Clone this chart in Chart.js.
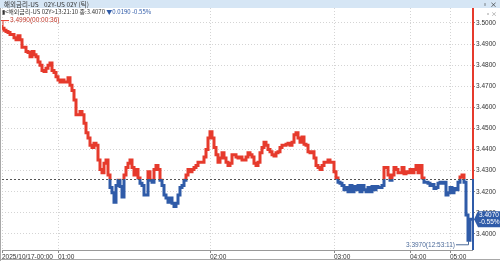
<!DOCTYPE html>
<html>
<head>
<meta charset="utf-8">
<script src="https://cdn.jsdelivr.net/npm/chart.js@4.4.1/dist/chart.umd.min.js"></script>
<style>
body { margin: 0; background: #fff; }
#wrap { position: relative; width: 500px; height: 261px; overflow: hidden; font-family: "Noto Sans CJK KR", "Liberation Sans", sans-serif; }
#chart { position: absolute; left: 0; top: 0; }
#titlebar { position: absolute; left: 0; top: 0; width: 500px; height: 8px; background: #d6e6f5; font-size: 6.5px; line-height: 8px; color: #333; }
#titlebar .t1 { position: absolute; left: 4px; }
#titlebar .t2 { position: absolute; left: 44px; }
#titlebar .win { position: absolute; right: 3px; font-size: 7px; color: #222; }
#info { position: absolute; left: 2px; top: 8px; font-size: 6px; line-height: 8px; color: #333; white-space: nowrap; }
#info .dn { color: #2f5ba8; }
#pin { position: absolute; right: 3px; top: 9px; font-size: 6px; color: #888; }
</style>
</head>
<body>
<div id="wrap">
  <canvas id="chart" width="500" height="261"></canvas>
  <div id="titlebar"><span class="t1">해외금리-US</span><span class="t2">02Y-US 02Y (틱)</span><span class="win">▫ ×</span></div>
  <div id="info">▮&lt;해외금리-US 02Y&gt;13:21:10 종:3.4070 <span class="dn">▼0.0190 -0.55%</span></div>
  <div id="pin">▫×</div>
</div>
<script>
// reference (previous close) and summary values
var refPrice = 3.4260;
var lastPrice = 3.4070;
var changePct = '-0.55%';
var highLabel = '3.4990(00:00:36)';
var lowLabel = '3.3970(12:53:11)';

var timeLabels = ['2025/10/17-00:00', '01:00', '02:00', '03:00', '04:00', '05:00'];
var timeTickIndex = [0, 28, 104, 166, 204, 224];
var yTicks = [3.40, 3.41, 3.42, 3.43, 3.44, 3.45, 3.46, 3.47, 3.48, 3.49, 3.50];

// tick prices, oldest first
var prices = [
    3.4990, 3.4975, 3.4965, 3.4960, 3.4955, 3.4945, 3.4945, 3.4930, 3.4920, 3.4940,
    3.4920, 3.4885, 3.4885, 3.4865, 3.4860, 3.4840, 3.4865, 3.4850, 3.4840, 3.4815,
    3.4800, 3.4775, 3.4770, 3.4785, 3.4800, 3.4810, 3.4775, 3.4765, 3.4745, 3.4730,
    3.4720, 3.4730, 3.4720, 3.4720, 3.4740, 3.4705, 3.4680, 3.4635, 3.4565, 3.4565,
    3.4580, 3.4565, 3.4525, 3.4480, 3.4455, 3.4420, 3.4410, 3.4430, 3.4420, 3.4350,
    3.4305, 3.4290, 3.4335, 3.4350, 3.4280, 3.4220, 3.4195, 3.4150, 3.4230, 3.4255,
    3.4225, 3.4175, 3.4280, 3.4315, 3.4335, 3.4350, 3.4315, 3.4280, 3.4305, 3.4265,
    3.4240, 3.4230, 3.4185, 3.4185, 3.4295, 3.4255, 3.4245, 3.4305, 3.4325, 3.4305,
    3.4255, 3.4230, 3.4185, 3.4170, 3.4150, 3.4170, 3.4145, 3.4130, 3.4145, 3.4185,
    3.4220, 3.4230, 3.4255, 3.4280, 3.4305, 3.4295, 3.4305, 3.4315, 3.4325, 3.4340,
    3.4340, 3.4340, 3.4365, 3.4400, 3.4455, 3.4485, 3.4455, 3.4410, 3.4375, 3.4340,
    3.4360, 3.4385, 3.4360, 3.4340, 3.4325, 3.4335, 3.4375, 3.4375, 3.4365, 3.4360,
    3.4365, 3.4350, 3.4350, 3.4365, 3.4385, 3.4375, 3.4365, 3.4335, 3.4325, 3.4340,
    3.4385, 3.4410, 3.4435, 3.4420, 3.4400, 3.4390, 3.4375, 3.4370, 3.4385, 3.4390,
    3.4410, 3.4420, 3.4420, 3.4425, 3.4430, 3.4420, 3.4435, 3.4470, 3.4480, 3.4455,
    3.4435, 3.4460, 3.4425, 3.4420, 3.4390, 3.4385, 3.4390, 3.4360, 3.4325, 3.4315,
    3.4305, 3.4325, 3.4340, 3.4340, 3.4350, 3.4340, 3.4340, 3.4295, 3.4265, 3.4245,
    3.4240, 3.4230, 3.4210, 3.4220, 3.4200, 3.4230, 3.4200, 3.4225, 3.4210, 3.4230,
    3.4200, 3.4230, 3.4210, 3.4200, 3.4220, 3.4200, 3.4225, 3.4210, 3.4225, 3.4220,
    3.4220, 3.4230, 3.4315, 3.4315, 3.4280, 3.4255, 3.4280, 3.4315, 3.4305, 3.4290,
    3.4290, 3.4315, 3.4285, 3.4295, 3.4290, 3.4305, 3.4290, 3.4305, 3.4325, 3.4290,
    3.4325, 3.4265, 3.4245, 3.4245, 3.4240, 3.4230, 3.4235, 3.4215, 3.4220, 3.4240,
    3.4245, 3.4240, 3.4245, 3.4185, 3.4195, 3.4220, 3.4195, 3.4215, 3.4210, 3.4245,
    3.4270, 3.4280, 3.4245, 3.4090, 3.3970, 3.4070
];

var RED = '#e63a2c';
var BLUE = '#2f5ba8';
var GRID = '#d4d4d4';
var AXIS_FONT = { size: 6.5, family: '"Liberation Sans", sans-serif' };

function splitColor(context) {
    var chart = context.chart;
    var area = chart.chartArea;
    if (!area) return RED;
    var yRef = chart.scales.y.getPixelForValue(refPrice);
    var t = (yRef - area.top) / (area.bottom - area.top);
    t = Math.max(0, Math.min(1, t));
    var g = chart.ctx.createLinearGradient(0, area.top, 0, area.bottom);
    g.addColorStop(0, RED);
    g.addColorStop(t, RED);
    g.addColorStop(t, BLUE);
    g.addColorStop(1, BLUE);
    return g;
}

var overlay = {
    id: 'overlay',
    afterDatasetsDraw: function (chart) {
        var ctx = chart.ctx;
        var area = chart.chartArea;
        var xs = chart.scales.x, ys = chart.scales.y;
        var yRef = ys.getPixelForValue(refPrice);

        ctx.save();
        // previous close line
        ctx.strokeStyle = '#555';
        ctx.lineWidth = 1;
        ctx.setLineDash([2, 2]);
        ctx.beginPath();
        ctx.moveTo(area.left, Math.round(yRef) + 0.5);
        ctx.lineTo(area.right, Math.round(yRef) + 0.5);
        ctx.stroke();
        ctx.setLineDash([]);

        // right edge bar, red above / blue below
        ctx.lineWidth = 2;
        ctx.strokeStyle = RED;
        ctx.beginPath();
        ctx.moveTo(area.right + 1, area.top);
        ctx.lineTo(area.right + 1, yRef);
        ctx.stroke();
        ctx.strokeStyle = BLUE;
        ctx.beginPath();
        ctx.moveTo(area.right + 1, yRef);
        ctx.lineTo(area.right + 1, area.bottom);
        ctx.stroke();

        // left frame and bottom frame
        ctx.lineWidth = 1;
        ctx.strokeStyle = '#a8a8a8';
        ctx.beginPath();
        ctx.moveTo(0.5, area.top);
        ctx.lineTo(0.5, chart.height);
        ctx.moveTo(0, chart.height - 1.5);
        ctx.lineTo(chart.width, chart.height - 1.5);
        ctx.stroke();

        ctx.font = '6.5px "Liberation Sans", sans-serif';
        ctx.textBaseline = 'middle';

        // high marker
        var hx = xs.getPixelForValue(0), hy = ys.getPixelForValue(prices[0]);
        ctx.strokeStyle = RED;
        ctx.beginPath();
        ctx.moveTo(hx + 1, hy);
        ctx.lineTo(hx + 1, hy - 4);
        ctx.moveTo(hx - 1, hy - 4.5);
        ctx.lineTo(hx + 7, hy - 4.5);
        ctx.stroke();
        ctx.fillStyle = '#c0392b';
        ctx.textAlign = 'left';
        ctx.fillText(highLabel, hx + 8, hy - 4.5);

        // low marker
        var lowIdx = prices.indexOf(Math.min.apply(null, prices));
        var lx = xs.getPixelForValue(lowIdx), ly = ys.getPixelForValue(prices[lowIdx]);
        ctx.strokeStyle = '#4c6a99';
        ctx.beginPath();
        ctx.moveTo(lx - 14, ly + 4.5);
        ctx.lineTo(lx - 1.5, ly + 4.5);
        ctx.lineTo(lx - 1.5, ly + 1);
        ctx.stroke();
        ctx.fillStyle = '#4c6a99';
        ctx.textAlign = 'right';
        ctx.fillText(lowLabel, lx - 15, ly + 4.5);

        // last price badge on the axis
        var by = ys.getPixelForValue(lastPrice);
        var bx = area.right + 2;
        ctx.fillStyle = BLUE;
        ctx.beginPath();
        ctx.moveTo(bx, by);
        ctx.lineTo(bx + 4, by - 8);
        ctx.lineTo(chart.width, by - 8);
        ctx.lineTo(chart.width, by + 8);
        ctx.lineTo(bx + 4, by + 8);
        ctx.closePath();
        ctx.fill();
        ctx.fillStyle = '#fff';
        ctx.textAlign = 'left';
        ctx.fillText(lastPrice.toFixed(4), bx + 5, by - 3.5);
        ctx.fillText(changePct, bx + 5, by + 3.5);
        ctx.restore();
    }
};

new Chart(document.getElementById('chart'), {
    type: 'line',
    data: {
        datasets: [{
            data: prices.map(function (p, i) { return { x: i, y: p }; }),
            stepped: 'after',
            borderWidth: 3,
            borderColor: splitColor,
            pointRadius: 0,
            fill: false
        }]
    },
    options: {
        responsive: false,
        animation: false,
        devicePixelRatio: 1,
        layout: { padding: { top: 8, left: 2, right: 0, bottom: 0 } },
        plugins: { legend: { display: false }, tooltip: { enabled: false } },
        scales: {
            x: {
                type: 'linear',
                min: 0,
                max: prices.length - 1,
                afterBuildTicks: function (scale) {
                    scale.ticks = timeTickIndex.map(function (v) { return { value: v }; });
                },
                afterFit: function (scale) { scale.height = 11; },
                ticks: {
                    autoSkip: false,
                    maxRotation: 0,
                    align: 'start',
                    padding: 0,
                    color: '#333',
                    font: AXIS_FONT,
                    callback: function (v, i) { return timeLabels[i]; }
                },
                grid: { color: GRID, tickLength: 3, tickColor: '#888' },
                border: { display: true, color: '#999', dash: [1, 2] }
            },
            y: {
                position: 'right',
                min: 3.3924,
                max: 3.5071,
                afterBuildTicks: function (scale) {
                    scale.ticks = yTicks.map(function (v) { return { value: v }; });
                },
                afterFit: function (scale) { scale.width = 28; },
                ticks: {
                    padding: 1,
                    color: '#333',
                    font: AXIS_FONT,
                    callback: function (v) { return v.toFixed(4); }
                },
                grid: { color: GRID, tickLength: 3, tickColor: '#888' },
                border: { display: false, dash: [1, 2] }
            }
        }
    },
    plugins: [overlay]
});
</script>
</body>
</html>
